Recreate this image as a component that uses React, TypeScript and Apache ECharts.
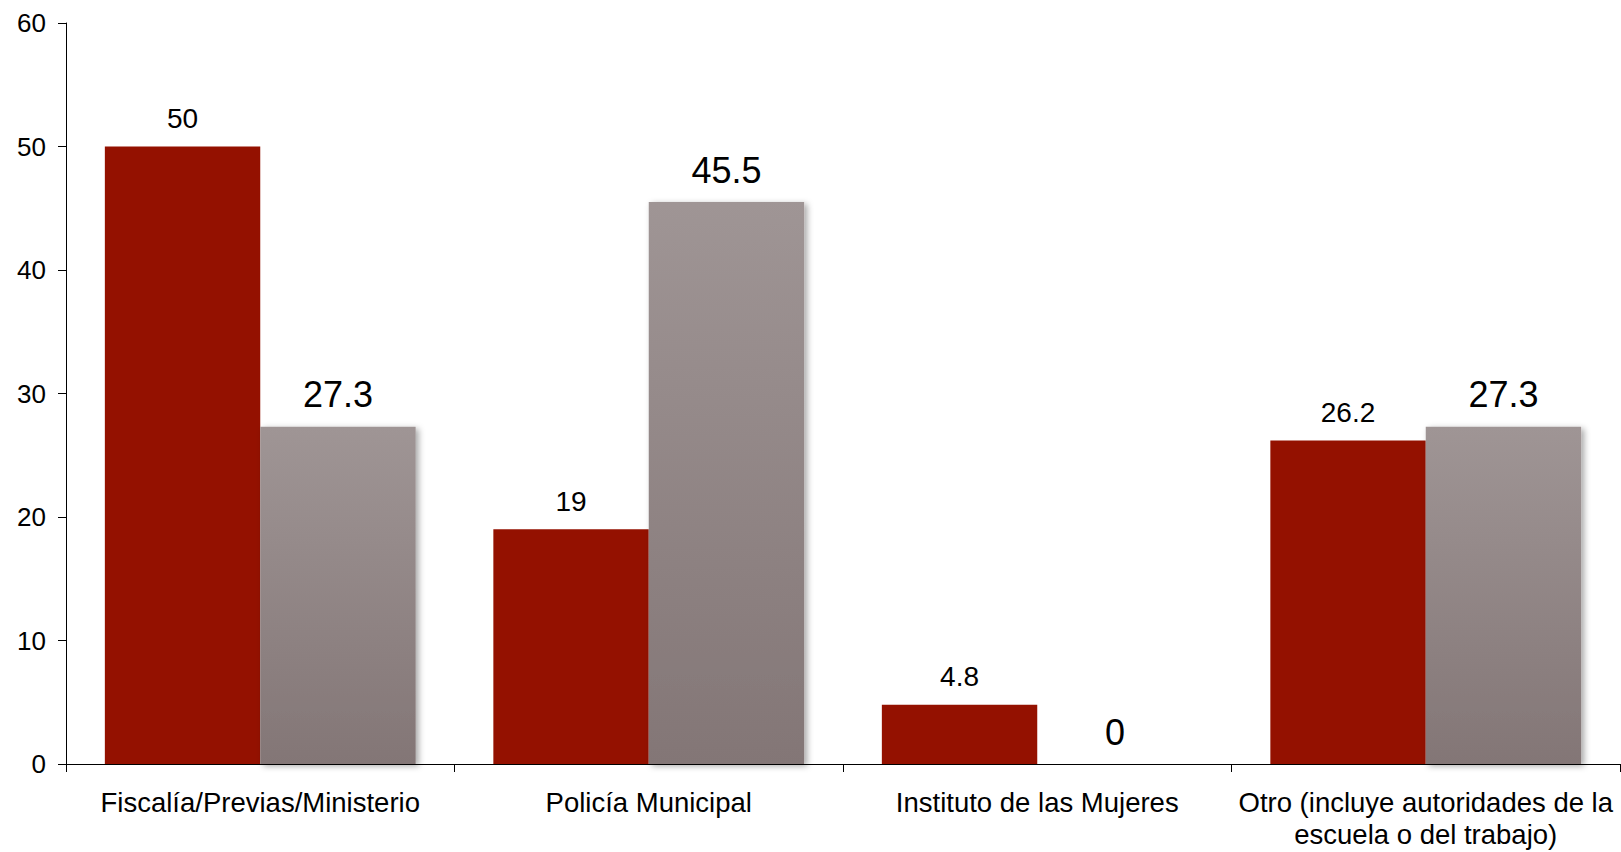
import React, { useEffect, useRef } from "react";
import * as echarts from "echarts";

const categories = [
  "Fiscalía/Previas/Ministerio",
  "Policía Municipal",
  "Instituto de las Mujeres",
  "Otro (incluye autoridades de la\nescuela o del trabajo)",
];
const redValues = [50, 19, 4.8, 26.2];
const greyValues = [27.3, 45.5, 0, 27.3];
const yTicks = { min: 0, max: 60, interval: 10 };

const FONT = "'Liberation Sans', Arial, Helvetica, sans-serif";

export default function App() {
  const ref = useRef<HTMLDivElement>(null);
  useEffect(() => {
    if (!ref.current) return;
    const chart = echarts.init(ref.current, undefined, { renderer: "svg" });
    chart.setOption({
      animation: false,
      backgroundColor: "#ffffff",
      textStyle: { fontFamily: FONT },
      grid: { left: 66, right: 1, top: 23, bottom: 88, containLabel: false },
      xAxis: {
        type: "category",
        data: categories,
        axisLine: { lineStyle: { color: "#000", width: 1 } },
        axisTick: { show: true, length: 8, lineStyle: { color: "#000" } },
        axisLabel: {
          interval: 0,
          color: "#000",
          fontSize: 27.5,
          fontFamily: FONT,
          margin: 22,
          lineHeight: 32,
        },
      },
      yAxis: {
        type: "value",
        min: yTicks.min,
        max: yTicks.max,
        interval: yTicks.interval,
        axisLine: { show: true, lineStyle: { color: "#000", width: 1 } },
        axisTick: { show: true, length: 8, lineStyle: { color: "#000" } },
        splitLine: { show: false },
        axisLabel: { color: "#000", fontSize: 26, fontFamily: FONT, margin: 20 },
      },
      series: [
        {
          type: "bar",
          data: redValues,
          barWidth: "40%",
          barGap: "0%",
          itemStyle: { color: "#941100" },
          label: {
            show: true,
            position: "top",
            distance: 14,
            color: "#000",
            fontSize: 28,
            fontFamily: FONT,
          },
        },
        {
          type: "bar",
          data: greyValues,
          barWidth: "40%",
          barGap: "0%",
          itemStyle: {
            color: new echarts.graphic.LinearGradient(0, 0, 0, 1, [
              { offset: 0, color: "#9f9595" },
              { offset: 1, color: "#837676" },
            ]),
            shadowColor: "rgba(0,0,0,0.35)",
            shadowBlur: 6,
            shadowOffsetX: 3,
            shadowOffsetY: 2,
          },
          label: {
            show: true,
            position: "top",
            distance: 14,
            color: "#000",
            fontSize: 36,
            fontFamily: FONT,
          },
        },
      ],
    });
    return () => chart.dispose();
  }, []);
  return (
    <div
      ref={ref}
      style={{ position: "fixed", left: 0, top: 0, width: 1621, height: 852 }}
    />
  );
}
